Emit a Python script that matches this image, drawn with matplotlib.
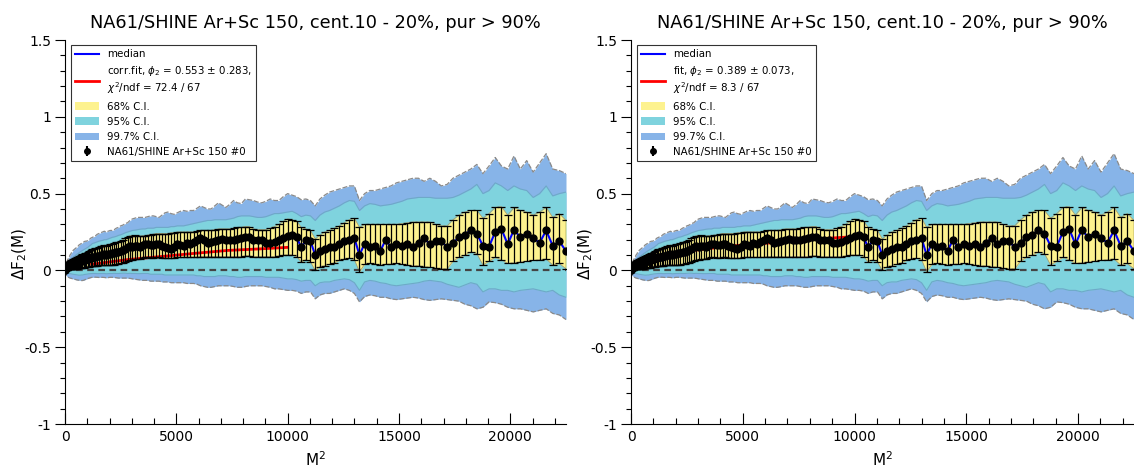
import numpy as np
import matplotlib.pyplot as plt
from matplotlib.lines import Line2D
from matplotlib.patches import Patch

# ---- data --------------------------------------------------------------------
M = np.arange(1, 151)
M2 = M ** 2  # x axis is M^2

data = np.array([
    0.0, 0.004, 0.008, 0.012, 0.015, 0.017, 0.02, 0.022, 0.024, 0.026,
    0.028, 0.03, 0.031, 0.034, 0.035, 0.037, 0.04, 0.041, 0.043, 0.045,
    0.047, 0.05, 0.051, 0.054, 0.056, 0.058, 0.061, 0.064, 0.066, 0.07,
    0.071, 0.074, 0.078, 0.08, 0.084, 0.086, 0.089, 0.091, 0.095, 0.1,
    0.1, 0.104, 0.101, 0.106, 0.11, 0.112, 0.116, 0.12, 0.118, 0.125,
    0.134, 0.142, 0.15, 0.158, 0.155, 0.162, 0.156, 0.15, 0.164, 0.17,
    0.175, 0.168, 0.165, 0.172, 0.17, 0.16, 0.155, 0.145, 0.14, 0.155,
    0.172, 0.165, 0.16, 0.176, 0.175, 0.182, 0.195, 0.21, 0.198, 0.178,
    0.185, 0.19, 0.2, 0.206, 0.2, 0.195, 0.2, 0.205, 0.21, 0.215,
    0.22, 0.195, 0.195, 0.2, 0.18, 0.18, 0.182, 0.2, 0.21, 0.225,
    0.228, 0.215, 0.15, 0.195, 0.19, 0.1, 0.125, 0.14, 0.15, 0.155,
    0.17, 0.19, 0.2, 0.21, 0.1, 0.175, 0.15, 0.16, 0.125, 0.2,
    0.15, 0.175, 0.16, 0.17, 0.155, 0.18, 0.21, 0.17, 0.19, 0.19,
    0.15, 0.18, 0.215, 0.23, 0.265, 0.24, 0.16, 0.155, 0.25, 0.27,
    0.17, 0.265, 0.215, 0.24, 0.21, 0.18, 0.26, 0.16, 0.19, 0.125,
])

# median of the bootstrap: same as data except where the blue line shows
median_diff = {71: 0.16, 72: 0.158, 73: 0.155, 74: 0.165, 75: 0.17}

lo68 = np.array([
    -0.001, 0.0, 0.001, 0.002, 0.003, 0.003, 0.004, 0.004, 0.005, 0.005,
    0.006, 0.006, 0.006, 0.007, 0.007, 0.008, 0.009, 0.009, 0.01, 0.01,
    0.011, 0.012, 0.012, 0.013, 0.014, 0.015, 0.016, 0.017, 0.018, 0.02,
    0.021, 0.022, 0.024, 0.026, 0.028, 0.029, 0.03, 0.031, 0.032, 0.033,
    0.033, 0.034, 0.032, 0.033, 0.035, 0.036, 0.038, 0.04, 0.042, 0.046,
    0.05, 0.055, 0.062, 0.068, 0.07, 0.072, 0.072, 0.073, 0.078, 0.085,
    0.085, 0.08, 0.08, 0.085, 0.085, 0.08, 0.08, 0.08, 0.08, 0.08,
    0.085, 0.085, 0.085, 0.085, 0.085, 0.085, 0.085, 0.09, 0.09, 0.09,
    0.09, 0.09, 0.09, 0.09, 0.09, 0.09, 0.09, 0.09, 0.09, 0.095,
    0.095, 0.09, 0.09, 0.09, 0.09, 0.09, 0.09, 0.095, 0.1, 0.1,
    0.1, 0.09, 0.055, 0.07, 0.055, 0.0, 0.025, 0.03, 0.04, 0.05,
    0.065, 0.075, 0.08, 0.07, -0.01, 0.04, 0.045, 0.04, 0.035, 0.04,
    0.04, 0.045, 0.04, 0.035, 0.03, 0.03, 0.025, 0.02, 0.015, 0.01,
    0.01, 0.06, 0.085, 0.1, 0.12, 0.11, 0.035, 0.06, 0.085, 0.07,
    0.045, 0.05, 0.055, 0.06, 0.065, 0.07, 0.075, 0.035, 0.045, 0.01,
])

hi68 = np.array([
    0.002, 0.008, 0.015, 0.02, 0.025, 0.028, 0.032, 0.036, 0.04, 0.043,
    0.046, 0.05, 0.052, 0.056, 0.058, 0.062, 0.066, 0.068, 0.072, 0.075,
    0.078, 0.082, 0.085, 0.09, 0.093, 0.097, 0.1, 0.105, 0.108, 0.113,
    0.115, 0.12, 0.125, 0.13, 0.138, 0.14, 0.145, 0.148, 0.152, 0.158,
    0.16, 0.165, 0.16, 0.165, 0.17, 0.172, 0.178, 0.183, 0.185, 0.192,
    0.2, 0.208, 0.218, 0.225, 0.225, 0.228, 0.225, 0.222, 0.225, 0.225,
    0.23, 0.23, 0.235, 0.24, 0.24, 0.24, 0.24, 0.24, 0.245, 0.245,
    0.25, 0.25, 0.25, 0.25, 0.25, 0.25, 0.255, 0.26, 0.26, 0.26,
    0.26, 0.265, 0.27, 0.27, 0.27, 0.27, 0.275, 0.28, 0.28, 0.285,
    0.285, 0.27, 0.265, 0.265, 0.265, 0.275, 0.285, 0.3, 0.32, 0.335,
    0.33, 0.32, 0.28, 0.27, 0.26, 0.205, 0.23, 0.25, 0.26, 0.275,
    0.29, 0.31, 0.33, 0.34, 0.28, 0.3, 0.3, 0.3, 0.3, 0.3,
    0.3, 0.3, 0.305, 0.31, 0.315, 0.315, 0.315, 0.315, 0.3, 0.29,
    0.29, 0.33, 0.36, 0.38, 0.39, 0.39, 0.34, 0.37, 0.41, 0.415,
    0.36, 0.41, 0.39, 0.38, 0.36, 0.38, 0.41, 0.345, 0.37, 0.325,
])

lo95 = np.array([
    -0.003, -0.005, -0.007, -0.009, -0.011, -0.012, -0.013, -0.015, -0.016, -0.017,
    -0.018, -0.019, -0.02, -0.02, -0.021, -0.022, -0.023, -0.024, -0.025, -0.026,
    -0.027, -0.028, -0.03, -0.03, -0.031, -0.031, -0.03, -0.03, -0.028, -0.026,
    -0.025, -0.023, -0.022, -0.021, -0.02, -0.02, -0.02, -0.021, -0.021, -0.02,
    -0.02, -0.02, -0.022, -0.021, -0.02, -0.02, -0.019, -0.02, -0.02, -0.019,
    -0.018, -0.018, -0.02, -0.019, -0.02, -0.02, -0.021, -0.021, -0.02, -0.02,
    -0.02, -0.025, -0.025, -0.025, -0.025, -0.025, -0.03, -0.03, -0.03, -0.03,
    -0.03, -0.03, -0.03, -0.03, -0.03, -0.03, -0.035, -0.035, -0.04, -0.04,
    -0.04, -0.04, -0.035, -0.035, -0.035, -0.04, -0.04, -0.045, -0.045, -0.04,
    -0.04, -0.04, -0.04, -0.04, -0.045, -0.045, -0.045, -0.045, -0.05, -0.055,
    -0.055, -0.06, -0.07, -0.065, -0.065, -0.1, -0.08, -0.075, -0.075, -0.065,
    -0.06, -0.055, -0.06, -0.08, -0.13, -0.075, -0.065, -0.07, -0.08, -0.085,
    -0.095, -0.1, -0.095, -0.09, -0.085, -0.08, -0.07, -0.065, -0.07, -0.075,
    -0.09, -0.1, -0.11, -0.095, -0.08, -0.09, -0.14, -0.12, -0.12, -0.13,
    -0.13, -0.14, -0.13, -0.125, -0.12, -0.13, -0.14, -0.13, -0.16, -0.175,
])

hi95 = np.array([
    0.003, 0.007, 0.01, 0.014, 0.018, 0.022, 0.027, 0.031, 0.036, 0.04,
    0.045, 0.05, 0.055, 0.06, 0.064, 0.068, 0.074, 0.08, 0.085, 0.09,
    0.095, 0.1, 0.105, 0.11, 0.115, 0.12, 0.125, 0.13, 0.135, 0.14,
    0.145, 0.15, 0.158, 0.165, 0.175, 0.178, 0.182, 0.186, 0.19, 0.193,
    0.195, 0.2, 0.2, 0.205, 0.21, 0.215, 0.218, 0.222, 0.228, 0.232,
    0.238, 0.245, 0.25, 0.255, 0.26, 0.262, 0.265, 0.268, 0.27, 0.27,
    0.275, 0.275, 0.275, 0.28, 0.28, 0.28, 0.28, 0.28, 0.285, 0.285,
    0.29, 0.29, 0.29, 0.295, 0.3, 0.305, 0.31, 0.315, 0.32, 0.325,
    0.325, 0.33, 0.33, 0.33, 0.33, 0.335, 0.34, 0.35, 0.355, 0.355,
    0.355, 0.35, 0.345, 0.345, 0.35, 0.36, 0.37, 0.37, 0.375, 0.38,
    0.385, 0.37, 0.35, 0.36, 0.355, 0.325, 0.36, 0.38, 0.39, 0.405,
    0.42, 0.44, 0.455, 0.45, 0.39, 0.42, 0.435, 0.43, 0.42, 0.425,
    0.43, 0.44, 0.45, 0.465, 0.47, 0.475, 0.475, 0.475, 0.47, 0.47,
    0.47, 0.475, 0.49, 0.51, 0.53, 0.56, 0.5, 0.52, 0.57, 0.55,
    0.52, 0.55, 0.53, 0.52, 0.475, 0.5, 0.55, 0.485, 0.5, 0.51,
])

lo997 = np.array([
    -0.005, -0.01, -0.015, -0.02, -0.024, -0.028, -0.031, -0.034, -0.037, -0.04,
    -0.042, -0.044, -0.046, -0.048, -0.05, -0.051, -0.052, -0.054, -0.055, -0.057,
    -0.058, -0.06, -0.062, -0.063, -0.064, -0.065, -0.066, -0.066, -0.064, -0.06,
    -0.057, -0.053, -0.05, -0.047, -0.045, -0.045, -0.044, -0.045, -0.046, -0.045,
    -0.045, -0.046, -0.048, -0.047, -0.045, -0.045, -0.046, -0.048, -0.05, -0.05,
    -0.05, -0.05, -0.05, -0.052, -0.055, -0.057, -0.06, -0.062, -0.065, -0.065,
    -0.065, -0.07, -0.07, -0.07, -0.07, -0.075, -0.075, -0.075, -0.08, -0.08,
    -0.08, -0.08, -0.08, -0.085, -0.085, -0.085, -0.09, -0.1, -0.105, -0.11,
    -0.11, -0.105, -0.1, -0.1, -0.1, -0.1, -0.105, -0.11, -0.11, -0.105,
    -0.1, -0.1, -0.1, -0.1, -0.105, -0.11, -0.12, -0.12, -0.125, -0.13,
    -0.13, -0.135, -0.15, -0.14, -0.14, -0.185, -0.16, -0.15, -0.15, -0.14,
    -0.13, -0.12, -0.13, -0.15, -0.205, -0.17, -0.16, -0.165, -0.175, -0.175,
    -0.185, -0.19, -0.185, -0.18, -0.175, -0.18, -0.19, -0.195, -0.19, -0.185,
    -0.19, -0.195, -0.2, -0.22, -0.23, -0.25, -0.24, -0.205, -0.21, -0.22,
    -0.24, -0.25, -0.25, -0.26, -0.27, -0.26, -0.25, -0.28, -0.29, -0.32,
])

hi997 = np.array([
    0.005, 0.01, 0.015, 0.02, 0.03, 0.035, 0.04, 0.05, 0.055, 0.06,
    0.07, 0.075, 0.085, 0.09, 0.1, 0.105, 0.115, 0.12, 0.13, 0.135,
    0.14, 0.145, 0.15, 0.155, 0.165, 0.17, 0.175, 0.18, 0.185, 0.19,
    0.19, 0.195, 0.2, 0.21, 0.215, 0.22, 0.225, 0.235, 0.24, 0.245,
    0.25, 0.255, 0.25, 0.255, 0.26, 0.26, 0.265, 0.275, 0.28, 0.29,
    0.295, 0.305, 0.31, 0.325, 0.335, 0.34, 0.345, 0.345, 0.345, 0.345,
    0.35, 0.355, 0.355, 0.35, 0.345, 0.36, 0.375, 0.38, 0.37, 0.365,
    0.375, 0.385, 0.39, 0.385, 0.39, 0.39, 0.405, 0.42, 0.41, 0.4,
    0.4, 0.42, 0.44, 0.425, 0.41, 0.43, 0.455, 0.44, 0.435, 0.465,
    0.46, 0.455, 0.445, 0.44, 0.45, 0.465, 0.455, 0.455, 0.48, 0.5,
    0.49, 0.48, 0.46, 0.465, 0.455, 0.42, 0.465, 0.49, 0.51, 0.52,
    0.53, 0.54, 0.55, 0.55, 0.455, 0.5, 0.52, 0.52, 0.53, 0.54,
    0.55, 0.57, 0.58, 0.59, 0.6, 0.6, 0.58, 0.6, 0.58, 0.55,
    0.56, 0.6, 0.62, 0.64, 0.66, 0.69, 0.63, 0.68, 0.735, 0.68,
    0.66, 0.745, 0.66, 0.715, 0.64, 0.7, 0.76, 0.66, 0.65, 0.63,
])

# fit curves
fit_left_x = [1200, 2800, 4300, 5750, 7300, 8750, 10000]
fit_left_y = [0.04, 0.07, 0.09, 0.11, 0.13, 0.14, 0.15]
fit_right_x = [2800, 3900, 5350, 6850, 8350, 10000]
fit_right_y = [0.13, 0.15, 0.17, 0.185, 0.205, 0.22]

title = "NA61/SHINE Ar+Sc 150, cent.10 - 20%, pur > 90%"
fit_labels = [
    "corr.fit, $\\phi_2$ = 0.553 $\\pm$ 0.283,\n$\\chi^2$/ndf = 72.4 / 67",
    "fit, $\\phi_2$ = 0.389 $\\pm$ 0.073,\n$\\chi^2$/ndf = 8.3 / 67",
]
data_label = "NA61/SHINE Ar+Sc 150 #0"

C_YEL = "#fdf28f"
C_CYAN = "#7fd3de"
C_BLUE = "#87b4e8"

median = data.copy()
for m, v in median_diff.items():
    median[m - 1] = v


def draw_panel(ax, fit_x, fit_y, fit_label):
    ax.fill_between(M2, lo997, hi997, color=C_BLUE, lw=0, zorder=1)
    ax.fill_between(M2, lo95, hi95, color=C_CYAN, lw=0, zorder=2)
    ax.fill_between(M2, lo68, hi68, color=C_YEL, lw=0, zorder=3)
    for arr in (lo997, hi997):
        ax.plot(M2, arr, color="#8a8a8a", lw=0.9, ls=(0, (4, 1.5)), zorder=2.5)
    for arr in (lo95, hi95):
        ax.plot(M2, arr, color="#6ea9c8", lw=0.8, zorder=2.6)
    for arr in (lo68, hi68):
        ax.plot(M2, arr, color="#a8a070", lw=0.6, zorder=3.1)

    ax.axhline(0, color="#444444", lw=1.6, ls=(0, (3, 2)), zorder=4)
    ax.plot(M2, median, color="blue", lw=1.5, zorder=5)
    ax.plot(fit_x, fit_y, color="red", lw=2, zorder=5.5)

    yerr = [np.maximum(data - lo68, 0), np.maximum(hi68 - data, 0)]
    ax.errorbar(M2, data, yerr=yerr, fmt="o", color="black", ms=5,
                elinewidth=0.9, capsize=2.8, capthick=0.9, zorder=6)

    ax.set_xlim(0, 22500)
    ax.set_ylim(-1, 1.5)
    ax.set_xticks([0, 5000, 10000, 15000, 20000])
    ax.set_xticks(np.arange(0, 22501, 1000), minor=True)
    ax.set_yticks([-1, -0.5, 0, 0.5, 1, 1.5])
    ax.set_yticklabels(["-1", "-0.5", "0", "0.5", "1", "1.5"])
    ax.set_yticks(np.arange(-1, 1.51, 0.1), minor=True)
    ax.tick_params(axis="x", which="major", direction="in", length=8, width=0.8, labelsize=10, pad=4)
    ax.tick_params(axis="x", which="minor", direction="in", length=4, width=0.8)
    ax.tick_params(axis="y", which="major", direction="out", length=7, width=0.8, labelsize=10, pad=3)
    ax.tick_params(axis="y", which="minor", direction="out", length=3.5, width=0.8)
    for s in ("top", "right"):
        ax.spines[s].set_visible(False)

    ax.set_xlabel("M$^2$", fontsize=11)
    ax.set_ylabel("$\\Delta$F$_2$(M)", fontsize=11)
    ax.xaxis.set_label_coords(0.5, -0.068)
    ax.yaxis.set_label_coords(-0.072, 0.443)
    ax.set_title(title, fontsize=12.8, pad=9)

    handles = [
        Line2D([], [], color="blue", lw=1.5),
        Line2D([], [], color="red", lw=2),
        Patch(facecolor=C_YEL, edgecolor="none"),
        Patch(facecolor=C_CYAN, edgecolor="none"),
        Patch(facecolor=C_BLUE, edgecolor="none"),
        ax.errorbar([], [], yerr=[], fmt="o", color="black", ms=4, capsize=2),
    ]
    labels = ["median", fit_label, "68% C.I.", "95% C.I.", "99.7% C.I.", data_label]
    leg = ax.legend(handles, labels, loc="upper left", bbox_to_anchor=(0.012, 0.987),
                    borderaxespad=0, fontsize=7.4, frameon=True, fancybox=False,
                    edgecolor="black", labelspacing=0.5, handlelength=2.3,
                    handletextpad=0.8, borderpad=0.4)
    leg.get_frame().set_linewidth(0.8)
    leg.set_zorder(10)


fig = plt.figure(figsize=(11.34, 4.73), dpi=100)
ax1 = fig.add_axes([65 / 1134, 49 / 473, 501 / 1134, 384 / 473])
ax2 = fig.add_axes([631 / 1134, 49 / 473, 503 / 1134, 384 / 473])
draw_panel(ax1, fit_left_x, fit_left_y, fit_labels[0])
draw_panel(ax2, fit_right_x, fit_right_y, fit_labels[1])

fig.savefig("out.png", dpi=100)
